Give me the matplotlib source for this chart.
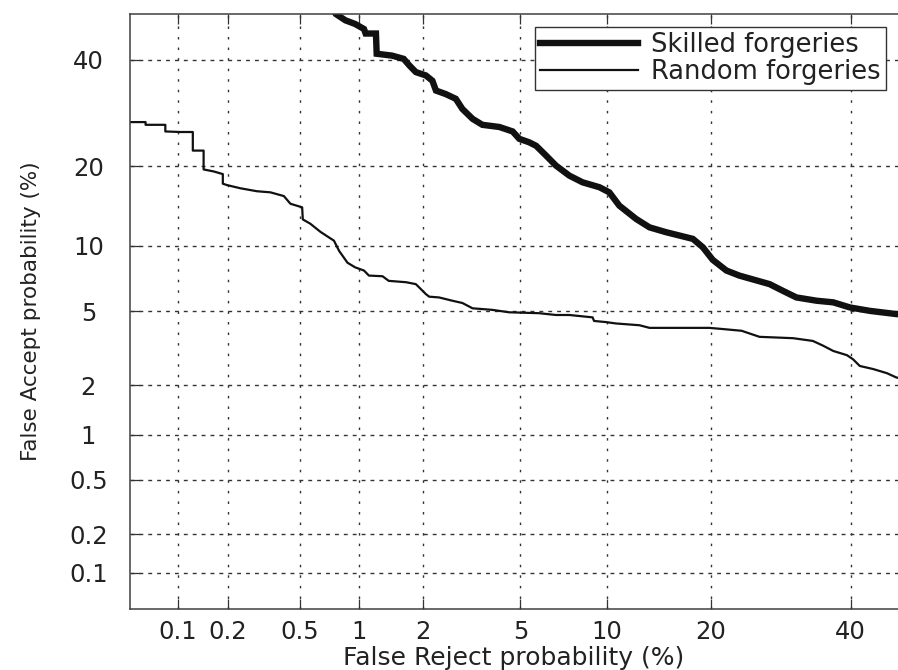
import numpy as np
import matplotlib
matplotlib.use("Agg")
import matplotlib.pyplot as plt
from matplotlib.ticker import NullLocator
from statistics import NormalDist

# DET curve values, FRR (%) vs FAR (%)
random_frr = [0.05, 0.063, 0.063, 0.084, 0.084, 0.104, 0.124, 0.124, 0.144, 0.144,
              0.165, 0.187, 0.187, 0.198, 0.237, 0.293, 0.348, 0.412, 0.447, 0.516,
              0.52, 0.57, 0.644, 0.753, 0.80, 0.88, 0.96, 1.06, 1.12, 1.30,
              1.39, 1.67, 1.85, 2.05, 2.12, 2.34, 2.67, 2.94, 3.24, 3.89,
              4.53, 5.87, 6.74, 7.51, 9.0, 9.1, 9.96, 10.7, 12.65, 13.55,
              19.8, 21.5, 23.8, 26.2, 31.0, 34.0, 35.6, 37.2, 39.4, 40.4,
              41.5, 43.7, 46.0, 47.6, 50.0]
random_far = [27.5, 27.5, 27.0, 27.0, 25.8, 25.7, 25.7, 22.5, 22.5, 19.5,
              19.2, 18.8, 17.4, 17.2, 16.75, 16.35, 16.2, 15.7, 14.7, 14.25,
              12.8, 12.3, 11.4, 10.5, 9.5, 8.45, 8.06, 7.8, 7.4, 7.35,
              7.0, 6.9, 6.76, 6.07, 5.9, 5.85, 5.64, 5.5, 5.18, 5.09,
              4.95, 4.9, 4.8, 4.8, 4.67, 4.48, 4.42, 4.35, 4.26, 4.13,
              4.13, 4.07, 3.99, 3.71, 3.65, 3.53, 3.33, 3.12, 2.96, 2.81,
              2.58, 2.48, 2.35, 2.22, 2.15]

skilled_frr = [0.72, 0.77, 0.86, 0.96, 1.06, 1.08, 1.21, 1.22, 1.44, 1.63,
               1.73, 1.85, 2.05, 2.19, 2.27, 2.50, 2.76, 2.94, 3.24, 3.55,
               4.15, 4.67, 4.95, 5.39, 5.72, 6.21, 6.74, 7.51, 8.33, 9.48,
               10.2, 10.97, 12.37, 13.55, 15.15, 17.93, 19.05, 20.2, 21.86, 23.5,
               27.6, 29.5, 31.5, 34.6, 37.2, 39.9, 43.2, 47.6, 50.0]
skilled_far = [52.0, 50.0, 48.6, 47.8, 46.7, 45.7, 45.7, 41.3, 40.9, 40.2,
               38.8, 37.4, 36.7, 35.6, 33.6, 32.9, 31.95, 29.98, 28.1, 27.0,
               26.6, 25.8, 24.5, 23.9, 23.3, 21.7, 20.1, 18.57, 17.6, 16.9,
               16.2, 14.46, 12.84, 11.9, 11.37, 10.68, 9.85, 8.7, 7.8, 7.4,
               6.76, 6.29, 5.85, 5.64, 5.54, 5.23, 5.03, 4.85, 4.8]

ticks = [0.1, 0.2, 0.5, 1, 2, 5, 10, 20, 40]
tick_labels = ["0.1", "0.2", "0.5", "1", "2", "5", "10", "20", "40"]

_nd = NormalDist()
_ppf = np.vectorize(_nd.inv_cdf, otypes=[float])
_cdf = np.vectorize(_nd.cdf, otypes=[float])


def fwd(p):
    p = np.clip(np.asarray(p, dtype=float), 1e-7, 100 - 1e-7)
    return _ppf(p / 100.0)


def inv(z):
    return 100.0 * _cdf(np.asarray(z, dtype=float))


plt.rcParams["font.family"] = "DejaVu Sans"

fig = plt.figure(figsize=(8.98, 6.7), dpi=100)
ax = fig.add_axes([130 / 898, 61 / 670, 780.7 / 898, 595 / 670])
ax.set_xscale("function", functions=(fwd, inv))
ax.set_yscale("function", functions=(fwd, inv))

ax.plot(skilled_frr, skilled_far, color="#111111", lw=4.6,
        solid_joinstyle="miter", label="Skilled forgeries")
ax.plot(random_frr, random_far, color="#111111", lw=1.6,
        label="Random forgeries")

ax.set_xlim(0.05, 50)
ax.set_ylim(0.05, 50)
ax.set_xticks(ticks, tick_labels)
ax.set_yticks(ticks, tick_labels)
ax.xaxis.set_minor_locator(NullLocator())
ax.yaxis.set_minor_locator(NullLocator())

ax.grid(axis="x", color="#333333", lw=1.0, linestyle=(0, (1.8, 5.8)))
ax.grid(axis="y", color="#333333", lw=1.0, linestyle=(0, (2.8, 3.6)))

ax.tick_params(axis="both", direction="in", top=True, right=True,
               length=7.5, width=0.9, color="#333333", labelsize=17.5,
               labelcolor="#222222")
ax.tick_params(axis="x", pad=8)
ax.tick_params(axis="y", pad=30)
for lbl in ax.get_yticklabels():
    lbl.set_horizontalalignment("center")

for sp in ax.spines.values():
    sp.set_color("#404040")
    sp.set_linewidth(1.1)

ax.set_xlabel("False Reject probability (%)", fontsize=18, color="#222222")
ax.set_ylabel("False Accept probability (%)", fontsize=15.5, color="#222222")
ax.xaxis.set_label_coords(0.492, -0.062)
ax.yaxis.set_label_coords(-0.114, 0.5)

leg = ax.legend(loc="upper right", bbox_to_anchor=(0.968, 0.9787),
                borderaxespad=0, fontsize=18.5, handlelength=3.8,
                handletextpad=0.5, labelspacing=0.05, borderpad=0.2,
                fancybox=False, framealpha=1)
leg.get_frame().set_edgecolor("#333333")
leg.get_frame().set_linewidth(1.0)
for t in leg.get_texts():
    t.set_color("#222222")

fig.savefig("out.png", dpi=100)
